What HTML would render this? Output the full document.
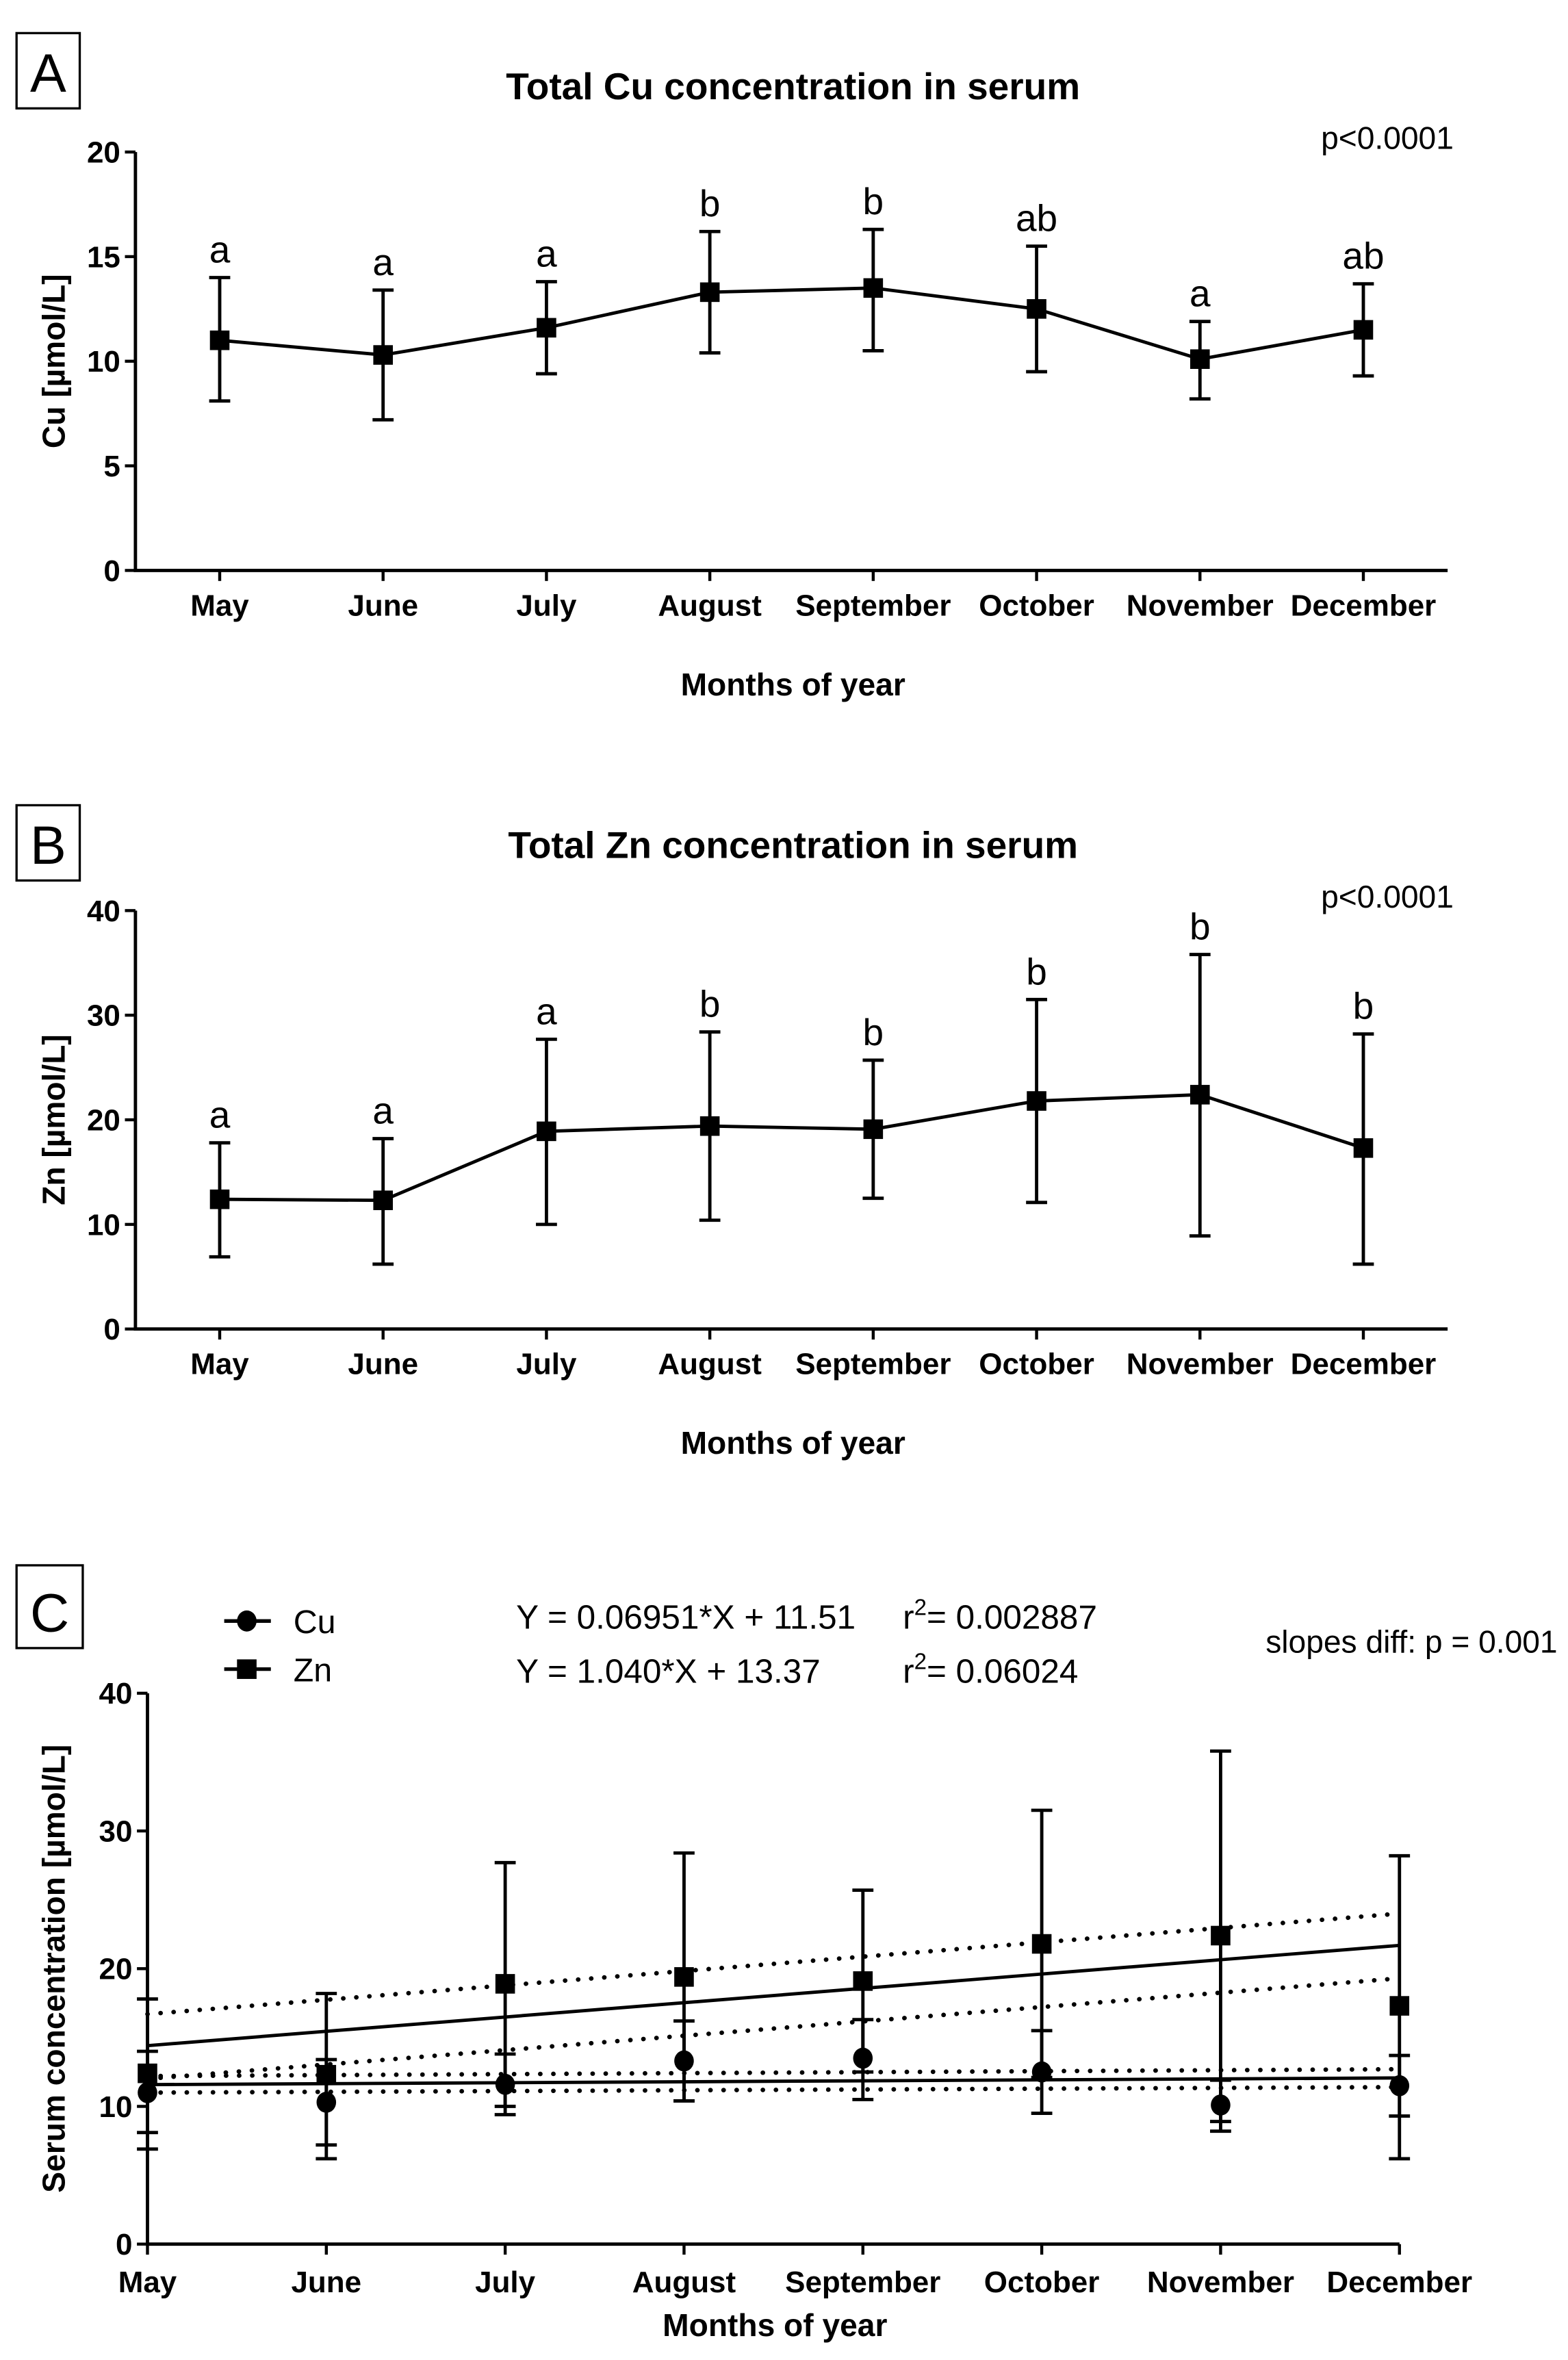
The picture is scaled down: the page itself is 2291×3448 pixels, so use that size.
<!DOCTYPE html>
<html><head><meta charset="utf-8"><style>
html,body{margin:0;padding:0;background:#fff}
svg{display:block}
text{font-family:"Liberation Sans",Arial,sans-serif;fill:#000}
.b{font-weight:bold}
</style></head><body>
<svg id="fig" xmlns="http://www.w3.org/2000/svg" width="2291" height="3448" viewBox="0 0 1042 1568" preserveAspectRatio="none">
</svg>
<script>
const months = ["May","June","July","August","September","October","November","December"];
const cuMean = [11.0,10.3,11.6,13.3,13.5,12.5,10.1,11.5];
const cuLow  = [8.1,7.2,9.4,10.4,10.5,9.5,8.2,9.3];
const cuHigh = [14.0,13.4,13.8,16.2,16.3,15.5,11.9,13.7];
const cuLetters = ["a","a","a","b","b","ab","a","ab"];
const znMean = [12.4,12.3,18.9,19.4,19.1,21.8,22.4,17.3];
const znLow  = [6.9,6.2,10.0,10.4,12.5,12.1,8.9,6.2];
const znHigh = [17.8,18.2,27.7,28.4,25.7,31.5,35.8,28.2];
const znLetters = ["a","a","a","b","b","b","b","b"];
const cuTicks = [0,5,10,15,20];
const znTicks = [0,10,20,30,40];
const cTicks = [0,10,20,30,40];
const cuFit = [0.06951, 11.51];
const znFit = [1.040, 13.37];
const cuBandUpper = [12.2,12.7];
const cuBandLower = [11.0,11.4];
const znBandUpper = [16.7,24.0];
const znBandLower = [12.0,19.3];

const NS="http://www.w3.org/2000/svg";
const svg=document.getElementById('fig');
function el(tag,attrs,parent){const e=document.createElementNS(NS,tag);for(const k in attrs)e.setAttribute(k,attrs[k]);(parent||svg).appendChild(e);return e;}
function txt(s,attrs,parent){const e=el('text',attrs,parent);e.textContent=s;return e;}

function panelBox(letter,x,y,w,h){
  const g=el('g',{});
  
  
  el('rect',{x:x,y:y,width:w,height:h,fill:'none',stroke:'#000','stroke-width':1.5},g);
  txt(letter,{x:x+w/2,y:y+h-11,'font-size':36,'text-anchor':'middle'},g);
}

function drawPanel(cfg){
  const g=el('g',{});
  
  
  const {x0,x1,yTop,yBot,max,ticks,xs}=cfg;
  const Y=v=>yBot-(v/max)*(yBot-yTop);
  const X=i=>xs[0]+i*(xs[1]-xs[0])/(months.length-1);
  const ax=el('path',{d:`M${x0},${yTop}V${yBot}H${x1}`,fill:'none',stroke:'#000','stroke-width':2.2},g);
  
  
  ticks.forEach(t=>{
    el('line',{x1:x0-7,x2:x0,y1:Y(t),y2:Y(t),stroke:'#000','stroke-width':2},g);
    const tl=txt(String(t),{x:x0-10,y:Y(t)+7,'font-size':20,'text-anchor':'end',class:'b'},g);
    
    
  });
  months.forEach((m,i)=>{
    el('line',{x1:X(i),x2:X(i),y1:yBot,y2:yBot+7,stroke:'#000','stroke-width':2},g);
    const tl=txt(m,{x:X(i),y:yBot+cfg.tickDy,'font-size':20,'text-anchor':'middle',class:'b'},g);
    
    
  });
  const xt=txt('Months of year',{x:cfg.xTitleX,y:cfg.xTitleY,'font-size':21,'text-anchor':'middle',class:'b'},g);
  
  
  const yc=(yTop+yBot)/2;
  const yt=txt(cfg.yTitle,{x:0,y:0,'font-size':21,'text-anchor':'middle',class:'b',transform:`translate(${cfg.yTitleX},${yc}) rotate(-90)`},g);
  
  
  return {g,X,Y};
}

function errorBars(g,X,Y,lo,hi,name){
  lo.forEach((v,i)=>{
    const e=el('path',{d:`M${X(i)},${Y(lo[i])}V${Y(hi[i])}M${X(i)-7},${Y(lo[i])}h14M${X(i)-7},${Y(hi[i])}h14`,stroke:'#000','stroke-width':2.2,fill:'none'},g);
    
    
  });
}
function squares(g,X,Y,vals,name){
  vals.forEach((v,i)=>{
    const r=el('rect',{x:X(i)-6.5,y:Y(v)-6.5,width:13,height:13,fill:'#000'},g);
    
    
  });
}
function circles(g,X,Y,vals,name){
  vals.forEach((v,i)=>{
    const c=el('ellipse',{cx:X(i),cy:Y(v),rx:6.5,ry:7,fill:'#000'},g);
    
    
  });
}
function meanLine(g,X,Y,vals,name){
  const d=vals.map((v,i)=>(i?'L':'M')+X(i)+','+Y(v)).join('');
  const p=el('path',{d:d,fill:'none',stroke:'#000','stroke-width':2.2},g);
  
  
}
function letters(g,X,Y,hi,ls){
  ls.forEach((s,i)=>{
    const t=txt(s,{x:X(i),y:Y(hi[i])-10,'font-size':25,'text-anchor':'middle'},g);
    
    
  });
}

panelBox('A',11,22,42,50);
let A=drawPanel({name:'panel-a-cu-chart',x0:90,x1:962,yTop:101,yBot:379,max:20,ticks:cuTicks,xs:[146,906],tickDy:30,xTitleX:527,xTitleY:462,yTitle:'Cu [\u00b5mol/L]',yTitleX:43});
let t=txt('Total Cu concentration in serum',{x:527,y:66,'font-size':25,'text-anchor':'middle',class:'b'},A.g);


t=txt('p<0.0001',{x:966,y:99,'font-size':21,'text-anchor':'end'},A.g);


meanLine(A.g,A.X,A.Y,cuMean,'cu');
errorBars(A.g,A.X,A.Y,cuLow,cuHigh,'cu');
squares(A.g,A.X,A.Y,cuMean,'cu');
letters(A.g,A.X,A.Y,cuHigh,cuLetters);

panelBox('B',11,535,42,50);
let B=drawPanel({name:'panel-b-zn-chart',x0:90,x1:962,yTop:605,yBot:883,max:40,ticks:znTicks,xs:[146,906],tickDy:30,xTitleX:527,xTitleY:966,yTitle:'Zn [\u00b5mol/L]',yTitleX:43});
t=txt('Total Zn concentration in serum',{x:527,y:570,'font-size':25,'text-anchor':'middle',class:'b'},B.g);


t=txt('p<0.0001',{x:966,y:603,'font-size':21,'text-anchor':'end'},B.g);


meanLine(B.g,B.X,B.Y,znMean,'zn');
errorBars(B.g,B.X,B.Y,znLow,znHigh,'zn');
squares(B.g,B.X,B.Y,znMean,'zn');
letters(B.g,B.X,B.Y,znHigh,znLetters);

panelBox('C',11,1040,44,55);
let C=drawPanel({name:'panel-c-regression-chart',x0:98,x1:930,yTop:1125,yBot:1491,max:40,ticks:cTicks,xs:[98,930],tickDy:32,xTitleX:515,xTitleY:1552,yTitle:'Serum concentration [\u00b5mol/L]',yTitleX:43});
function fitLine(fit,name){
  const n=months.length;
  const p=el('line',{x1:C.X(0),y1:C.Y(fit[0]*1+fit[1]),x2:C.X(n-1),y2:C.Y(fit[0]*n+fit[1]),stroke:'#000','stroke-width':2.2},C.g);
  
  
}
function band(vals,name){
  const p=el('line',{x1:C.X(0),y1:C.Y(vals[0]),x2:C.X(months.length-1),y2:C.Y(vals[1]),stroke:'#000','stroke-width':3,'stroke-dasharray':'0.1 8.6','stroke-linecap':'round'},C.g);
  
  
}
band(znBandUpper,'zn-upper');band(znBandLower,'zn-lower');
band(cuBandUpper,'cu-upper');band(cuBandLower,'cu-lower');
fitLine(znFit,'zn');fitLine(cuFit,'cu');
errorBars(C.g,C.X,C.Y,znLow,znHigh,'zn');
errorBars(C.g,C.X,C.Y,cuLow,cuHigh,'cu');
squares(C.g,C.X,C.Y,znMean,'zn');
circles(C.g,C.X,C.Y,cuMean,'cu');
const lg=el('g',{});


el('line',{x1:149,x2:180,y1:1077,y2:1077,stroke:'#000','stroke-width':2.4},lg);
el('ellipse',{cx:164,cy:1077,rx:6.5,ry:7,fill:'#000'},lg);
txt('Cu',{x:195,y:1085,'font-size':22},lg);
el('line',{x1:149,x2:180,y1:1109,y2:1109,stroke:'#000','stroke-width':2.4},lg);
el('rect',{x:157.5,y:1102.5,width:13,height:13,fill:'#000'},lg);
txt('Zn',{x:195,y:1117,'font-size':22},lg);
t=txt('Y = 0.06951*X + 11.51',{x:343,y:1082,'font-size':22.5},lg);


t=txt('Y = 1.040*X + 13.37',{x:343,y:1118,'font-size':22.5},lg);


const r1=el('text',{x:600,y:1082,'font-size':22.5},lg);
r1.innerHTML='r<tspan dy="-9" font-size="15">2</tspan><tspan dy="9">= 0.002887</tspan>';


const r2=el('text',{x:600,y:1118,'font-size':22.5},lg);
r2.innerHTML='r<tspan dy="-9" font-size="15">2</tspan><tspan dy="9">= 0.06024</tspan>';


t=txt('slopes diff: p = 0.001',{x:1035,y:1098,'font-size':21,'text-anchor':'end'},lg);


</script>
</body></html>
